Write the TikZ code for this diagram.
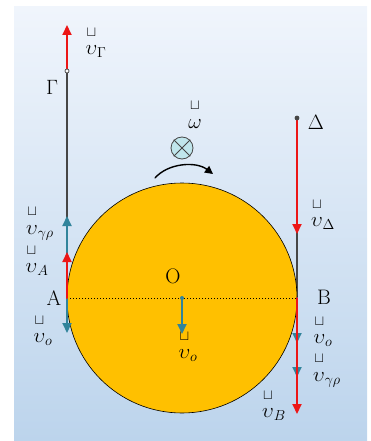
\documentclass[tikz,border=0pt]{standalone}
\usepackage{amsmath}
\usetikzlibrary{arrows.meta}

\definecolor{arancio}{RGB}{255,192,0}
\definecolor{rosso}{RGB}{236,22,22}
\definecolor{ottanio}{RGB}{49,132,155}
\definecolor{grigio}{RGB}{70,70,70}
\definecolor{azzurrino}{RGB}{192,230,236}
\definecolor{cieloalto}{RGB}{240,245,252}
\definecolor{cielobasso}{RGB}{188,212,236}

% vettore con il segno "rotto" sopra
\newcommand{\vett}[1]{\overset{\sqcup}{\vphantom{b}#1}}

\begin{document}
\begin{tikzpicture}[x=1pt,y=1pt,line join=round,line cap=round,font=\fontsize{21}{23}\selectfont,
    freccia/.style={line width=2pt,-{Triangle[length=10pt,width=9pt]}},
    tangente/.style={grigio,line width=1.1pt},
    etichetta/.style={inner sep=1pt}]

  \useasboundingbox (0,0) rectangle (370,-441);
  % sfondo sfumato
  \shade[top color=cieloalto,bottom color=cielobasso] (14,-7) rectangle (367,-441);

  % ---- punti principali ---------------------------------------------------
  \coordinate (O) at (182,-298);
  \coordinate (A) at (67,-298);
  \coordinate (B) at (297,-298);
  \coordinate (G) at (67,-71);
  \coordinate (D) at (297,-118);
  % punte delle frecce
  \coordinate (vG)   at (67,-25);
  \coordinate (vAgr) at (67,-216);
  \coordinate (vA)   at (67,-252);
  \coordinate (vAo)  at (67,-333);
  \coordinate (vO)   at (182,-334);
  \coordinate (vD)   at (297,-234);
  \coordinate (vBo)  at (297,-343);
  \coordinate (vBgr) at (297,-377);
  \coordinate (vB)   at (297,-414);

  % ---- rette tangenti e disco ---------------------------------------------
  \draw[tangente] (G) -- (A);
  \draw[tangente] (D) -- (B);

  \filldraw[fill=arancio,draw=black,line width=0.6pt] (O) circle (115);
  \draw[line width=1pt,dash pattern=on 1.2pt off 1.8pt,line cap=butt] (A) -- (B);

  % ---- velocita' (ottanio sotto, rosso sopra) -----------------------------
  \draw[freccia,ottanio] (A) -- (vAgr);
  \draw[freccia,ottanio] (A) -- (vAo);
  \draw[freccia,ottanio] (O) -- (vO);
  \draw[freccia,ottanio] (B) -- (vBgr);
  \draw[freccia,ottanio] (B) -- (vBo);

  \draw[freccia,rosso] (G) -- (vG);
  \draw[freccia,rosso] (A) -- (vA);
  \draw[freccia,rosso] (D) -- (vD);
  \draw[freccia,rosso] (B) -- (vB);

  \filldraw[fill=white,draw=grigio,line width=0.7pt] (G) circle (2);
  \fill[grigio] (D) circle (2.4);
  \fill[ottanio] (O) circle (2);

  % ---- rotazione: omega entrante -------------------------------------------
  \node[circle,draw=grigio,fill=azzurrino,line width=0.8pt,minimum size=22pt,inner sep=0pt]
       (rot) at (182,-148) {};
  \draw[grigio,line width=0.8pt] (rot.north west) -- (rot.south east);
  \draw[grigio,line width=0.8pt] (rot.north east) -- (rot.south west);
  \coordinate (w1) at (155,-178);
  \coordinate (w2) at (213,-174);
  \draw[line width=1.4pt,-{Triangle[length=8pt,width=8pt]}]
       (w1) .. controls (168,-163) and (196,-161) .. (w2);
  \node[etichetta] (lw) at (195,-114) {$\vett{\omega}$};

  % ---- etichette ------------------------------------------------------------
  \node[etichetta] (lvG)   at (96,-42)   {$\vett{\upsilon}_{\Gamma}$};
  \node[etichetta] (lG)    at (52,-87)   {$\Gamma$};
  \node[etichetta] (lvAgr) at (40,-223)  {$\vett{\upsilon}_{\gamma\rho}$};
  \node[etichetta] (lvA)   at (37,-260)  {$\vett{\upsilon}_{A}$};
  \node[etichetta] (lA)    at (54,-298)  {A};
  \node[etichetta] (lvAo)  at (43,-330)  {$\vett{\upsilon}_{o}$};
  \node[etichetta] (lO)    at (173,-276) {O};
  \node[etichetta] (lvO)   at (188,-346) {$\vett{\upsilon}_{o}$};
  \node[etichetta] (lD)    at (316,-122) {$\Delta$};
  \node[etichetta] (lvD)   at (323,-214) {$\vett{\upsilon}_{\Delta}$};
  \node[etichetta] (lB)    at (324,-297) {B};
  \node[etichetta] (lvBo)  at (323,-331) {$\vett{\upsilon}_{o}$};
  \node[etichetta] (lvBgr) at (327,-370) {$\vett{\upsilon}_{\gamma\rho}$};
  \node[etichetta] (lvB)   at (274,-405) {$\vett{\upsilon}_{B}$};

\end{tikzpicture}
\end{document}
